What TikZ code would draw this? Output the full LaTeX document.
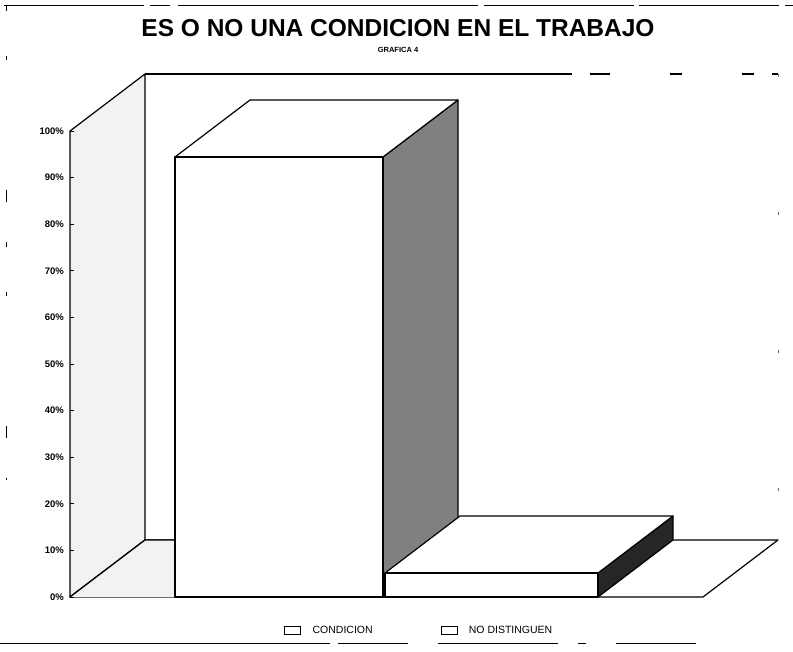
\documentclass[tikz,border=0pt]{standalone}
\usepackage{fontspec}
\setmainfont{Liberation Sans}
\usetikzlibrary{positioning}
\tikzstyle{frame}=[line width=1pt]
\tikzstyle{edge}=[draw=black, line width=1.2pt, line join=round]
\tikzstyle{wall}=[edge, fill=black!5]
\tikzstyle{face}=[edge, fill=white]
\tikzstyle{side}=[edge, fill=black!50]
\tikzstyle{dark side}=[edge, fill=black!85]
\tikzstyle{ylab}=[anchor=east, inner sep=0pt, font=\fontsize{9.5}{11}\selectfont\bfseries]
\tikzstyle{legbox}=[draw, line width=0.8pt, minimum width=16pt, minimum height=8pt, inner sep=0pt]
\tikzstyle{leglab}=[inner sep=0pt, font=\fontsize{10.5}{12}\selectfont]

\begin{document}
\begin{tikzpicture}[x=1pt,y=-1pt]
  \useasboundingbox (0,0) rectangle (793,652);
  % border of the sheet
  \draw[frame, dash pattern=on 140pt off 6pt on 20pt off 8pt on 300pt off 6pt on 150pt off 5pt] (4,6) -- (793,6);
  \draw[frame, dash pattern=on 330pt off 8pt on 70pt off 30pt on 120pt off 20pt on 8pt off 30pt on 80pt] (0,643) -- (793,643);
  \draw[frame, dash pattern=on 5pt off 45pt on 4pt off 130pt on 12pt off 40pt] (6,6) -- (6,480);

  % corners of the chart box
  \coordinate (f0) at (70,597);
  \coordinate (f100) at (70,131);
  \coordinate (b0) at (145,540);
  \coordinate (b100) at (145,74);
  \coordinate (fr) at (703,597);
  \coordinate (br) at (778,540);
  \coordinate (br100) at (778,74);

  % walls and floor
  \draw[wall] (f0) -- (f100) -- (b100) -- (b0) -- cycle;
  \draw[edge] (b100) -- (560,74);
  \draw[edge, dash pattern=on 12pt off 18pt on 20pt off 60pt on 12pt off 60pt] (560,74) -- (br100);
  \draw[black!60, dash pattern=on 3pt off 135pt] (br100) -- (br);
  \draw[face] (f0) -- (fr) -- (br) -- (b0) -- cycle;
  \fill[black!5] (f0) -- (175,597) -- (175,540) -- (b0) -- cycle;
  \draw[edge] (f0) -- (b0) -- (175,540);

  % axis ticks and labels
  \foreach \p in {0,10,...,100}{
    \draw[line width=0.8pt] (70,{597-4.66*\p}) -- (74,{597-4.66*\p});
    \node[ylab] (lab\p) at (64,{597-4.66*\p}) {\p\%};
  }

  % bar CONDICION
  \draw[side] (383,157) -- (458,100) -- (458,540) -- (383,597) -- cycle;
  \draw[face] (175,157) -- (383,157) -- (458,100) -- (250,100) -- cycle;
  \draw[face] (175,597) rectangle (383,157);

  % bar NO DISTINGUEN
  \draw[dark side] (598,573) -- (673,516) -- (673,540) -- (598,597) -- cycle;
  \draw[face] (385,573) -- (598,573) -- (673,516) -- (460,516) -- cycle;
  \draw[face] (385,597) rectangle (598,573);

  % titles
  \node (title) at (398,28) {\fontsize{24.5}{28}\selectfont\bfseries ES O NO UNA CONDICION EN EL TRABAJO};
  \node[below=7pt of title, inner sep=0pt] (sub) {\fontsize{7.5}{9}\selectfont\bfseries GRAFICA 4};

  % legend
  \node[legbox] (keyA) at (292,630) {};
  \node[leglab, right=12pt of keyA] (labA) {CONDICION};
  \node[legbox, right=68pt of labA] (keyB) {};
  \node[leglab, right=11pt of keyB] (labB) {NO DISTINGUEN};
\end{tikzpicture}
\end{document}
